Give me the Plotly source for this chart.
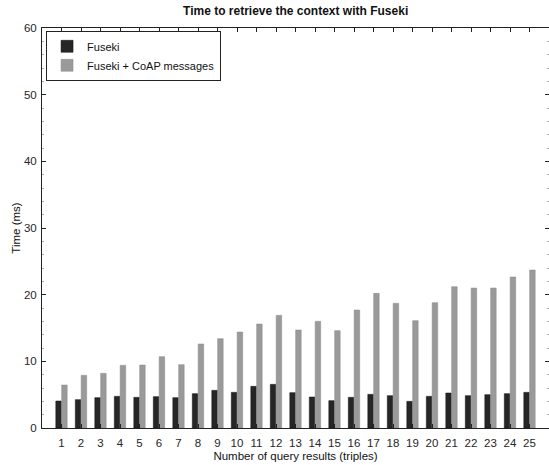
import plotly.graph_objects as go

categories = list(range(1, 26))
fuseki = [4.05, 4.25, 4.55, 4.75, 4.6, 4.7, 4.55, 5.15, 5.65, 5.35, 6.25, 6.55,
          5.3, 4.65, 4.1, 4.6, 5.05, 4.85, 4.0, 4.75, 5.25, 4.85, 5.0, 5.15, 5.35]
fuseki_coap = [6.45, 7.9, 8.2, 9.4, 9.45, 10.7, 9.5, 12.6, 13.4, 14.4, 15.6, 16.9,
               14.7, 16.0, 14.6, 17.7, 20.2, 18.7, 16.1, 18.8, 21.2, 21.0, 21.0, 22.65, 23.7]
y_ticks = [0, 10, 20, 30, 40, 50, 60]

font = "Liberation Sans, Arial, sans-serif"

fig = go.Figure()
fig.add_trace(go.Bar(x=categories, y=fuseki, name="Fuseki",
                     marker=dict(color="#262626", line=dict(color="#111111", width=0.5))))
fig.add_trace(go.Bar(x=categories, y=fuseki_coap, name="Fuseki + CoAP messages",
                     marker=dict(color="#9a9a9a", line=dict(color="#8a8a8a", width=0.5))))

fig.update_layout(
    width=549, height=465,
    margin=dict(l=42, r=0, t=28, b=37),
    plot_bgcolor="white", paper_bgcolor="white",
    barmode="group", bargap=0.4, bargroupgap=0.05,
    font=dict(family=font, size=11.5, color="#262626"),
    title=dict(text="<b>Time to retrieve the context with Fuseki</b>",
               x=0.5385, xanchor="center", y=0.976, yanchor="middle",
               font=dict(size=12, color="#111111")),
    legend=dict(x=0.008, y=0.993, xanchor="left", yanchor="top",
                bgcolor="white", bordercolor="#222222", borderwidth=1,
                font=dict(size=11, color="#111111"), tracegroupgap=0,
                itemwidth=30),
    showlegend=True,
)
fig.update_xaxes(
    range=[0, 26], tickmode="array", tickvals=categories,
    ticktext=[str(c) for c in categories],
    ticks="inside", ticklen=4, tickcolor="#222222", ticklabelstandoff=4,
    showline=True, linecolor="#222222", linewidth=1, mirror="allticks",
    showgrid=False, zeroline=False,
    title=dict(text="Number of query results (triples)", standoff=4,
               font=dict(size=11.5, color="#111111")),
)
fig.update_yaxes(
    range=[0, 60], tickmode="array", tickvals=y_ticks,
    ticks="inside", ticklen=4, tickcolor="#222222", ticklabelstandoff=2,
    minor=dict(dtick=2, ticks="inside", ticklen=2, tickcolor="#aaaaaa"),
    showline=True, linecolor="#222222", linewidth=1, mirror="allticks",
    showgrid=False, zeroline=False,
    title=dict(text="Time (ms)", standoff=0, font=dict(size=11.5, color="#111111")),
)

fig.write_html("out.html")
